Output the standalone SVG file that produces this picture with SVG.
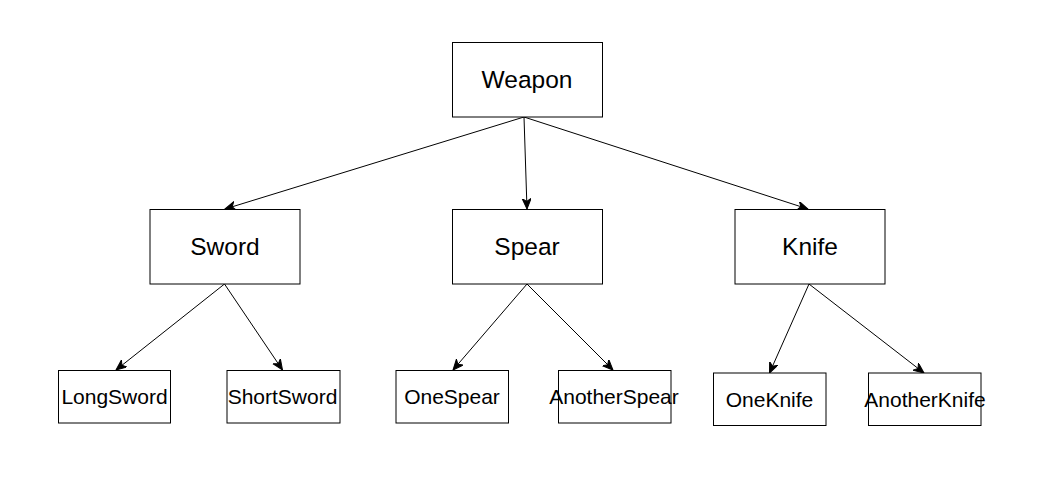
<svg xmlns="http://www.w3.org/2000/svg" width="1038" height="483" viewBox="0 0 1038 483">
<defs>
<style>
.box{fill:#fff;stroke:#000;stroke-width:1}
.edge{fill:none;stroke:#000;stroke-width:1}
.big{font-family:"Liberation Sans",Arial,sans-serif;font-size:24.5px;fill:#000;text-anchor:middle}
.small{font-family:"Liberation Sans",Arial,sans-serif;font-size:21px;fill:#000;text-anchor:middle}
</style>
<marker id="arr" markerUnits="userSpaceOnUse" markerWidth="13" markerHeight="11" refX="10.5" refY="4.5" orient="auto" viewBox="0 0 13 11">
<path d="M0,0 L10.5,4.5 L0,9 L3,4.5 z" fill="#000" stroke="#000" stroke-width="1"/>
</marker>
</defs>
<rect width="1038" height="483" fill="#fff"/>
<g id="connectors">
<line class="edge" x1="524" y1="117" x2="225" y2="209" marker-end="url(#arr)"/>
<line class="edge" x1="524" y1="117" x2="527" y2="209" marker-end="url(#arr)"/>
<line class="edge" x1="524" y1="117" x2="808" y2="209" marker-end="url(#arr)"/>
<line class="edge" x1="224.5" y1="284" x2="116" y2="370" marker-end="url(#arr)"/>
<line class="edge" x1="224.5" y1="284" x2="282.5" y2="370" marker-end="url(#arr)"/>
<line class="edge" x1="527" y1="284" x2="453" y2="370" marker-end="url(#arr)"/>
<line class="edge" x1="527" y1="284" x2="613" y2="370" marker-end="url(#arr)"/>
<line class="edge" x1="809" y1="284" x2="769.5" y2="373" marker-end="url(#arr)"/>
<line class="edge" x1="809" y1="284" x2="924" y2="373" marker-end="url(#arr)"/>
</g>
<g id="weapon"><rect class="box" x="452.5" y="42.5" width="150" height="74.5"/><text class="big" x="527" y="87.5">Weapon</text></g>
<g id="sword"><rect class="box" x="150" y="209.5" width="150" height="74.5"/><text class="big" x="225" y="254.5">Sword</text></g>
<g id="spear"><rect class="box" x="452.5" y="209.5" width="150" height="74.5"/><text class="big" x="527" y="254.5">Spear</text></g>
<g id="knife"><rect class="box" x="735" y="209.5" width="150" height="74.5"/><text class="big" x="810" y="254.5">Knife</text></g>
<g id="longsword"><rect class="box" x="58.5" y="370.5" width="112" height="52.5"/><text class="small" x="114.5" y="403.5">LongSword</text></g>
<g id="shortsword"><rect class="box" x="227" y="370.5" width="113" height="52.5"/><text class="small" x="282.5" y="403.5">ShortSword</text></g>
<g id="onespear"><rect class="box" x="396" y="370.5" width="112.5" height="52.5"/><text class="small" x="452" y="403.5">OneSpear</text></g>
<g id="anotherspear"><rect class="box" x="558.5" y="370.5" width="112.5" height="52.5"/><text class="small" x="614" y="403.5">AnotherSpear</text></g>
<g id="oneknife"><rect class="box" x="713.5" y="373" width="112.5" height="52.5"/><text class="small" x="769.5" y="406.5">OneKnife</text></g>
<g id="anotherknife"><rect class="box" x="868.5" y="373" width="112.5" height="52.5"/><text class="small" x="925" y="406.5">AnotherKnife</text></g>
</svg>
